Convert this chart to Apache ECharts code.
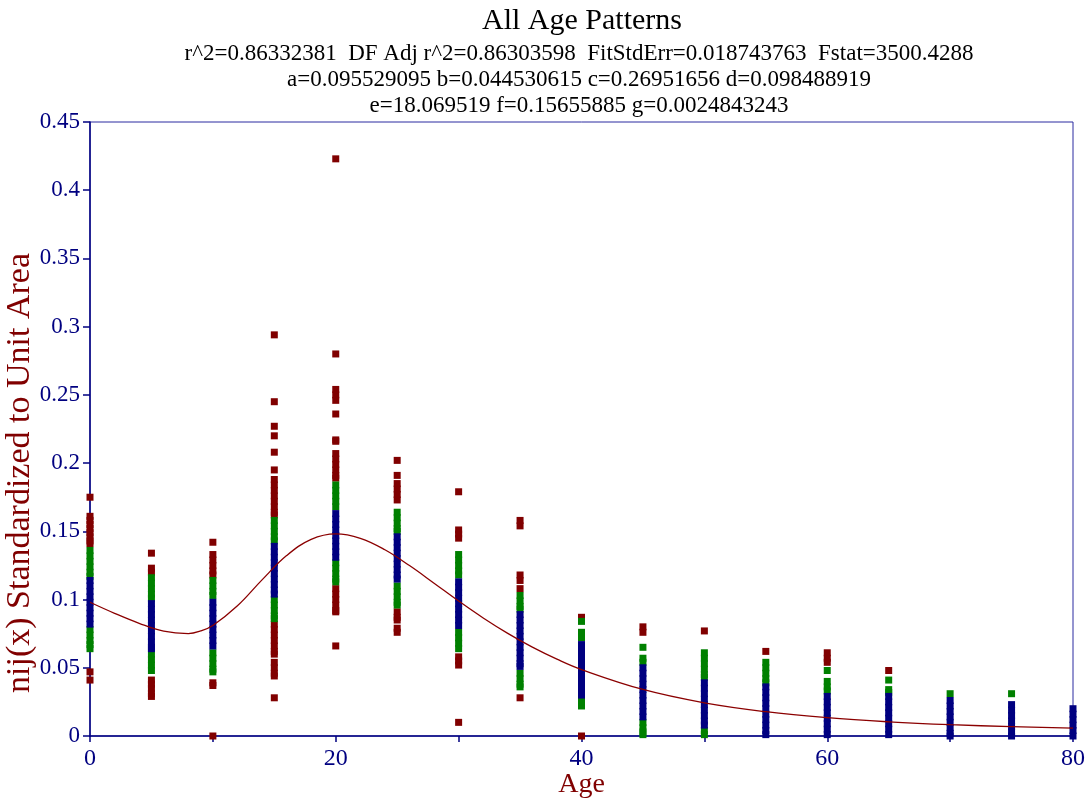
<!DOCTYPE html>
<html>
<head>
<meta charset="utf-8">
<script src="https://cdn.jsdelivr.net/npm/echarts@6/dist/echarts.min.js"></script>
<style>html,body{margin:0;padding:0;background:#fff;}#chart{width:1086px;height:799px;}</style>
</head>
<body>
<div id="chart"></div>
<script>
// ---- data ----
var ages = [0, 5, 10, 15, 20, 25, 30, 35, 40, 45, 50, 55, 60, 65, 70, 75, 80];

// outer points (dark red)
var redValues = [
  [0.175, 0.161, 0.158, 0.155, 0.152, 0.149, 0.146, 0.143, 0.141, 0.047, 0.041],
  [0.134, 0.123, 0.120, 0.041, 0.038, 0.035, 0.031, 0.029],
  [0.142, 0.133, 0.129, 0.125, 0.121, 0.118, 0.039, 0.037, 0.000],
  [0.294, 0.245, 0.227, 0.220, 0.208, 0.195, 0.188, 0.184, 0.180, 0.176, 0.172, 0.168, 0.164, 0.162,
   0.082, 0.078, 0.074, 0.070, 0.066, 0.062, 0.060, 0.054, 0.050, 0.046, 0.044, 0.028],
  [0.423, 0.280, 0.254, 0.250, 0.246, 0.236, 0.217, 0.216, 0.207, 0.203, 0.199, 0.195, 0.191, 0.189,
   0.108, 0.104, 0.100, 0.096, 0.092, 0.091, 0.066],
  [0.202, 0.191, 0.185, 0.181, 0.177, 0.173, 0.091, 0.087, 0.085, 0.079, 0.076],
  [0.179, 0.151, 0.148, 0.145, 0.058, 0.055, 0.052, 0.010],
  [0.158, 0.154, 0.118, 0.114, 0.108, 0.028],
  [0.087, 0.000],
  [0.080, 0.076],
  [0.077],
  [0.062],
  [0.061, 0.057, 0.054],
  [0.048],
  [],
  [],
  []
];

// middle points (green)
var greenValues = [
  [0.136, 0.132, 0.128, 0.124, 0.120, 0.117, 0.078, 0.074, 0.070, 0.067, 0.064],
  [0.116, 0.112, 0.108, 0.104, 0.101, 0.060, 0.056, 0.052, 0.048],
  [0.114, 0.110, 0.106, 0.103, 0.061, 0.057, 0.053, 0.049, 0.047],
  [0.158, 0.154, 0.150, 0.146, 0.143, 0.100, 0.096, 0.092, 0.088, 0.086],
  [0.184, 0.180, 0.176, 0.172, 0.168, 0.127, 0.123, 0.119, 0.115, 0.113],
  [0.164, 0.160, 0.156, 0.152, 0.150, 0.110, 0.106, 0.102, 0.098, 0.096],
  [0.133, 0.129, 0.125, 0.121, 0.118, 0.076, 0.072, 0.068, 0.064],
  [0.103, 0.099, 0.095, 0.093, 0.046, 0.042, 0.038, 0.036],
  [0.084, 0.076, 0.072, 0.026, 0.022],
  [0.065, 0.057, 0.054, 0.010, 0.006, 0.003, 0.001],
  [0.061, 0.057, 0.053, 0.049, 0.045, 0.043, 0.004, 0.001],
  [0.054, 0.050, 0.046, 0.042, 0.039],
  [0.048, 0.040, 0.036, 0.033],
  [0.041, 0.034, 0.032],
  [0.031],
  [0.031],
  []
];

// central points (navy)
var blueValues = [
  [0.114, 0.110, 0.106, 0.102, 0.098, 0.094, 0.090, 0.086, 0.082],
  [0.097, 0.093, 0.089, 0.085, 0.081, 0.077, 0.073, 0.069, 0.065, 0.064],
  [0.098, 0.094, 0.090, 0.086, 0.082, 0.078, 0.074, 0.070, 0.066],
  [0.139, 0.135, 0.131, 0.127, 0.123, 0.119, 0.115, 0.111, 0.107, 0.104],
  [0.163, 0.159, 0.155, 0.151, 0.147, 0.143, 0.139, 0.135, 0.131],
  [0.146, 0.142, 0.138, 0.134, 0.130, 0.126, 0.122, 0.118, 0.115],
  [0.113, 0.109, 0.105, 0.101, 0.097, 0.093, 0.089, 0.085, 0.081],
  [0.089, 0.085, 0.081, 0.077, 0.073, 0.069, 0.065, 0.061, 0.057, 0.053, 0.051],
  [0.067, 0.063, 0.059, 0.055, 0.051, 0.047, 0.043, 0.039, 0.035, 0.031, 0.030],
  [0.050, 0.046, 0.042, 0.038, 0.034, 0.030, 0.026, 0.022, 0.018, 0.014],
  [0.039, 0.035, 0.031, 0.027, 0.023, 0.019, 0.015, 0.011, 0.008],
  [0.036, 0.032, 0.028, 0.024, 0.020, 0.016, 0.012, 0.008, 0.004, 0.001],
  [0.029, 0.025, 0.021, 0.017, 0.013, 0.009, 0.005, 0.001],
  [0.029, 0.025, 0.021, 0.017, 0.013, 0.009, 0.005, 0.001],
  [0.026, 0.022, 0.018, 0.014, 0.010, 0.006, 0.002, 0.000],
  [0.023, 0.019, 0.015, 0.011, 0.007, 0.003, 0.000],
  [0.020, 0.016, 0.012, 0.008, 0.004, 0.000]
];

// fitted curve
var curveAges   = [0, 2, 4, 6, 8, 9, 10, 12, 14, 16, 18, 20, 22, 24, 26, 28, 30, 32, 34, 36, 38, 40, 45, 50, 55, 60, 65, 70, 75, 80];
var curveValues = [0.0980, 0.0899, 0.0826, 0.0768, 0.0751, 0.0770, 0.0810, 0.0954, 0.1144, 0.1322, 0.1441, 0.1481, 0.1449, 0.1365, 0.1249, 0.1120, 0.0989, 0.0865, 0.0752, 0.0651, 0.0563, 0.0487, 0.0341, 0.0243, 0.0178, 0.0134, 0.0104, 0.0083, 0.0069, 0.0058];

var xTicks = [0, 20, 40, 60, 80];

var titleText = 'All Age Patterns';
var subtitleLines = [
  'r^2=0.86332381  DF Adj r^2=0.86303598  FitStdErr=0.018743763  Fstat=3500.4288',
  'a=0.095529095 b=0.044530615 c=0.26951656 d=0.098488919',
  'e=18.069519 f=0.15655885 g=0.0024843243'
];

// ---- build ----
function toPoints(groups) {
  var out = [];
  groups.forEach(function (vals, i) {
    vals.forEach(function (v) { out.push([ages[i], v]); });
  });
  return out;
}
var curveData = curveAges.map(function (a, i) { return [a, curveValues[i]]; });

var FONT = 'Liberation Serif';
var NAVY = '#000080';
var DARKRED = '#800000';

var chart = echarts.init(document.getElementById('chart'), null, { renderer: 'canvas' });
chart.setOption({
  backgroundColor: '#ffffff',
  animation: false,
  title: [
    { text: titleText, left: 577, top: 1, textAlign: 'center',
      textStyle: { fontFamily: FONT, fontSize: 30, fontWeight: 'normal', color: '#000' } },
    { text: subtitleLines.join('\n'), left: 574, top: 36, textAlign: 'center',
      textStyle: { fontFamily: FONT, fontSize: 23, fontWeight: 'normal', color: '#000', lineHeight: 26 } }
  ],
  grid: { left: 90, right: 13, top: 122, bottom: 63, outerBoundsMode: 'none', containLabel: false,
    show: true, borderColor: '#2a2aa0', borderWidth: 1, backgroundColor: 'transparent' },
  xAxis: {
    type: 'value', min: 0, max: 80, interval: 10,
    name: 'Age', nameLocation: 'middle', nameGap: 35, nameMoveOverlap: false,
    nameTextStyle: { fontFamily: FONT, fontSize: 28, color: DARKRED },
    axisLine: { show: true, lineStyle: { color: NAVY, width: 1.5 } },
    axisTick: { show: true, inside: false, length: 6, lineStyle: { color: NAVY, width: 1.5 } },
    axisLabel: { margin: 11, fontFamily: FONT, fontSize: 24, color: NAVY,
      formatter: function (v) { return xTicks.indexOf(v) >= 0 ? String(v) : ''; } },
    splitLine: { show: false }
  },
  yAxis: {
    type: 'value', min: 0, max: 0.45, interval: 0.05,
    name: 'nij(x) Standardized to Unit Area', nameLocation: 'middle', nameGap: 53, nameRotate: 90,
    nameMoveOverlap: false,
    nameTextStyle: { fontFamily: FONT, fontSize: 34, color: DARKRED, padding: [0, 88, 0, 0] },
    axisLine: { show: true, lineStyle: { color: NAVY, width: 1.5 } },
    axisTick: { show: true, inside: false, length: 7, lineStyle: { color: NAVY, width: 1.5 } },
    axisLabel: { margin: 10, fontFamily: FONT, fontSize: 23, color: NAVY,
      formatter: function (v) { return String(Math.round(v * 100) / 100); } },
    splitLine: { show: false }
  },
  series: [
    { type: 'scatter', data: toPoints(redValues), symbol: 'rect', symbolSize: 7, clip: false,
      itemStyle: { color: DARKRED, opacity: 1 }, z: 2 },
    { type: 'scatter', data: toPoints(greenValues), symbol: 'rect', symbolSize: 7, clip: false,
      itemStyle: { color: '#008000', opacity: 1 }, z: 3 },
    { type: 'scatter', data: toPoints(blueValues), symbol: 'rect', symbolSize: 7, clip: false,
      itemStyle: { color: NAVY, opacity: 1 }, z: 4 },
    { type: 'line', data: curveData, smooth: 0.4, showSymbol: false, clip: false,
      lineStyle: { color: '#8b0000', width: 1.3 }, z: 5 }
  ]
});
</script>
</body>
</html>
